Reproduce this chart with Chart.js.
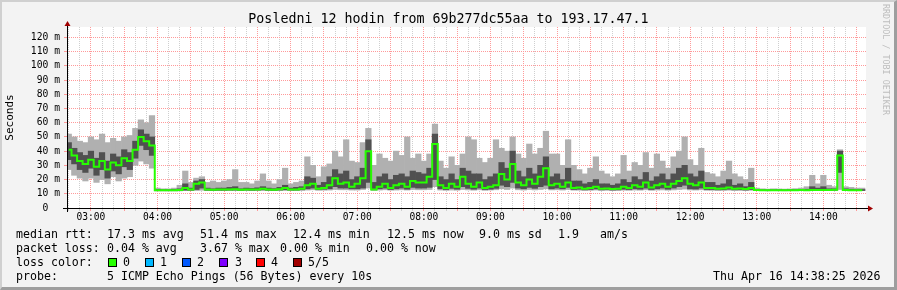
<!DOCTYPE html>
<html lang="cs">
<head>
<meta charset="UTF-8">
<title>Smokeping - Posledni 12 hodin</title>
<script src="https://cdn.jsdelivr.net/npm/chart.js"></script>
<style>
  * { margin: 0; padding: 0; box-sizing: border-box; }
  body { background: #f3f3f3; }
  #wrap {
    position: relative;
    width: 897px;
    height: 290px;
    background: #f3f3f3;
    font-family: 'DejaVu Sans Mono', monospace;
    color: #000;
    overflow: hidden;
  }
  #chart { position: absolute; left: 0; top: 0; }
  .txt { position: absolute; white-space: pre; font-size: 11.6px; line-height: 14px; }
  #title { position: absolute; top: 12px; left: 0; width: 897px; text-align: center; font-size: 13.3px; line-height: 14px; }
  #brand {
    position: absolute; left: 881px; top: 4px;
    writing-mode: vertical-rl; font-size: 8.4px; color: #bdbdbd; white-space: pre;
  }
  .sq { position: absolute; width: 9px; height: 9px; border: 1px solid #000; }
  #shade {
    position: absolute; inset: 0; pointer-events: none;
    border-top: 2px solid #d0d0d0; border-left: 2px solid #d0d0d0;
    border-right: 3px solid #9e9e9e; border-bottom: 3px solid #9e9e9e;
  }
</style>
</head>
<body>
<div id="wrap">
  <canvas id="chart" width="897" height="290"></canvas>
  <div id="title">Posledni 12 hodin from 69b277dc55aa to 193.17.47.1</div>
  <div id="brand">RRDTOOL / TOBI OETIKER</div>

  <div class="txt" style="left:16px;top:227px">median rtt:</div>
  <div class="txt" style="left:107px;top:227px">17.3 ms avg</div>
  <div class="txt" style="left:200px;top:227px">51.4 ms max</div>
  <div class="txt" style="left:293px;top:227px">12.4 ms min</div>
  <div class="txt" style="left:387px;top:227px">12.5 ms now</div>
  <div class="txt" style="left:479px;top:227px">9.0 ms sd</div>
  <div class="txt" style="left:558px;top:227px">1.9</div>
  <div class="txt" style="left:600px;top:227px">am/s</div>

  <div class="txt" style="left:16px;top:241px">packet loss:</div>
  <div class="txt" style="left:107px;top:241px">0.04 % avg</div>
  <div class="txt" style="left:200px;top:241px">3.67 % max</div>
  <div class="txt" style="left:280px;top:241px">0.00 % min</div>
  <div class="txt" style="left:366px;top:241px">0.00 % now</div>

  <div class="txt" style="left:16px;top:255px">loss color:</div>
  <div class="sq" style="left:108px;top:258px;background:#26ff00"></div>
  <div class="txt" style="left:123px;top:255px">0</div>
  <div class="sq" style="left:145px;top:258px;background:#00b8ff"></div>
  <div class="txt" style="left:160px;top:255px">1</div>
  <div class="sq" style="left:182px;top:258px;background:#0059ff"></div>
  <div class="txt" style="left:197px;top:255px">2</div>
  <div class="sq" style="left:219px;top:258px;background:#7e00ff"></div>
  <div class="txt" style="left:235px;top:255px">3</div>
  <div class="sq" style="left:256px;top:258px;background:#ff0000"></div>
  <div class="txt" style="left:271px;top:255px">4</div>
  <div class="sq" style="left:293px;top:258px;background:#a10000"></div>
  <div class="txt" style="left:308px;top:255px">5/5</div>

  <div class="txt" style="left:16px;top:269px">probe:</div>
  <div class="txt" style="left:107px;top:269px">5 ICMP Echo Pings (56 Bytes) every 10s</div>
  <div class="txt" style="left:713px;top:269px">Thu Apr 16 14:38:25 2026</div>

  <div id="shade"></div>
</div>

<script>
  // 5 minute slots, first slot 02:40, last 14:35 (minutes since midnight)
  const slotStart = 160;
  const slotMinutes = 5;

  // median rtt (ms)
  const median = [
    41, 37, 33, 31,
    34, 29, 33, 27, 32, 30, 35, 33, 41, 50, 47, 44,
    12.5, 12.4, 12.4, 12.5, 12.6, 14, 13, 17, 18, 13, 12.8, 13,
    13, 13, 13.2, 12.8, 13, 13, 13, 13.5, 13, 12.8, 13.2, 14,
    13, 13, 13.5, 16, 17, 13.5, 14, 16, 21, 17, 18, 15,
    17, 21, 40, 13, 15, 17, 14, 16, 17, 15, 19, 18,
    18, 22, 45, 16, 14, 17, 15, 22, 17, 15, 18, 14,
    15, 16, 24, 20, 31, 18, 16, 20, 17, 22, 28, 16,
    17, 15, 18, 14, 14.5, 13.5, 14, 15, 13.5, 13.8, 13.3, 13.5,
    15, 14, 16, 15, 18, 14.5, 16, 17, 15, 17, 19, 21,
    17, 16, 18, 14, 14, 13.5, 13.8, 14.5, 13.5, 13.8, 13.3, 14,
    12.6, 12.5, 12.4, 12.5, 12.5, 12.4, 12.5, 12.5, 12.6, 12.5, 12.6, 12.7,
    12.7, 12.6, 12.8, 37, 12.6, 12.5, 12.5, 12.5
  ];

  // smoke: lowest and highest ping in the slot (ms)
  const smokeLo = [
    27, 23, 21, 19,
    21, 18, 20, 17, 22, 19, 21, 22, 30, 33, 31, 28,
    12, 12, 12, 12, 12, 12.2, 12.2, 12.3, 12.5, 12.2, 12.2, 12.2,
    12.2, 12.3, 12.3, 12.2, 12.3, 12.2, 12.3, 12.3, 12.2, 12.2, 12.3, 12.4,
    12.3, 12.3, 12.4, 12.6, 12.8, 12.4, 12.5, 12.6, 13, 12.8, 12.8, 12.6,
    12.6, 13, 14, 12.4, 12.6, 12.8, 12.5, 12.6, 12.8, 12.6, 13, 12.8,
    12.8, 13, 15, 12.6, 12.4, 12.6, 12.5, 13, 12.7, 12.5, 12.8, 12.4,
    12.6, 12.8, 13.5, 13, 14, 12.8, 12.6, 13, 12.7, 13, 13.5, 12.7,
    12.8, 12.6, 13, 12.5, 12.5, 12.3, 12.4, 12.6, 12.3, 12.4, 12.2, 12.3,
    12.5, 12.4, 12.6, 12.5, 12.8, 12.4, 12.6, 12.7, 12.5, 12.7, 13, 13.3,
    12.7, 12.6, 12.8, 12.4, 12.4, 12.3, 12.3, 12.5, 12.3, 12.3, 12.2, 12.4,
    12.2, 12.2, 12.1, 12.2, 12.2, 12.1, 12.2, 12.2, 12.2, 12.2, 12.3, 12.3,
    12.3, 12.2, 12.3, 13, 12.2, 12.2, 12.2, 12.2
  ];
  const smokeHi = [
    52, 50, 47, 46,
    50, 48, 52, 46, 49, 47, 50, 51, 56, 62, 60, 65,
    14, 13.5, 13.5, 14, 16, 26, 18, 21, 22, 18, 19, 18,
    19, 20, 27, 18, 18, 17, 19, 24, 19, 17, 20, 28,
    17, 18, 19, 36, 30, 22, 29, 31, 40, 36, 48, 33,
    32, 46, 56, 30, 38, 35, 33, 40, 37, 50, 35, 38,
    33, 38, 59, 33, 28, 36, 30, 38, 50, 48, 35, 32,
    35, 48, 42, 40, 50, 38, 35, 45, 38, 42, 54, 38,
    38, 30, 48, 30, 27, 24, 28, 36, 26, 24, 22, 24,
    37, 26, 32, 30, 39, 28, 38, 33, 28, 36, 40, 50,
    34, 30, 42, 25, 24, 22, 26, 33, 24, 22, 20, 28,
    14, 13.5, 13.3, 13.5, 13.4, 13.3, 13.4, 13.6, 14, 15, 23, 17,
    23, 16, 15, 41, 15, 14.5, 14, 14
  ];

  // dense part of the smoke around the median (ms)
  const coreLo = [
    34, 31, 27, 25,
    28, 23, 27, 21, 26, 24, 29, 27, 35, 44, 41, 37,
    12.2, 12.2, 12.2, 12.3, 12.3, 12.6, 12.5, 13, 14, 12.5, 12.4, 12.5,
    12.5, 12.6, 12.6, 12.4, 12.6, 12.5, 12.6, 12.8, 12.5, 12.4, 12.6, 12.8,
    12.6, 12.6, 12.8, 13.5, 14, 13, 13.2, 13.5, 15, 14, 14, 13.5,
    13.5, 14, 18, 12.8, 13.5, 14, 13, 13.5, 14, 13.2, 14.5, 14,
    14, 14.5, 20, 13.5, 13, 13.8, 13.2, 15, 13.8, 13.2, 14, 13,
    13.2, 13.8, 16, 15, 18, 14, 13.5, 14.5, 13.8, 15, 16, 13.5,
    14, 13.5, 14.5, 13, 13.2, 12.8, 13, 13.4, 12.8, 13, 12.7, 12.8,
    13.2, 13, 13.5, 13.2, 14, 13, 13.5, 14, 13.2, 14, 15, 16,
    13.5, 13.3, 14, 13, 13, 12.8, 12.9, 13.2, 12.8, 12.9, 12.7, 13,
    12.4, 12.3, 12.2, 12.3, 12.3, 12.2, 12.3, 12.3, 12.4, 12.3, 12.4, 12.5,
    12.5, 12.4, 12.5, 25, 12.4, 12.3, 12.3, 12.3
  ];
  const coreHi = [
    46, 42, 39, 37,
    40, 35, 39, 33, 38, 36, 41, 39, 47, 55, 52, 50,
    13, 12.8, 12.8, 13, 13.5, 17, 14, 19, 20, 14, 13.5, 14,
    14, 14.5, 15, 13.5, 14, 13.8, 14.2, 15, 14, 13.6, 14.5, 16,
    14, 14.5, 15, 22, 21, 16, 18, 22, 27, 24, 26, 20,
    22, 28, 48, 18, 22, 24, 20, 23, 24, 22, 26, 25,
    24, 28, 52, 22, 20, 24, 20, 28, 26, 24, 24, 20,
    22, 24, 32, 28, 40, 26, 22, 28, 24, 30, 36, 22,
    24, 20, 28, 19, 19, 17, 18, 20, 17, 17, 16, 17,
    20, 18, 22, 20, 25, 19, 22, 24, 20, 24, 28, 30,
    24, 22, 26, 18, 18, 16, 17, 20, 16, 17, 15, 18,
    13, 12.8, 12.7, 12.8, 12.8, 12.7, 12.8, 12.8, 13, 13.2, 15, 14,
    15, 13.5, 13.5, 40, 13.5, 13.2, 13, 13
  ];

  // graph window: 02:38:25 .. 14:38:25
  const xMin = 158.42;
  const xMax = 878.42;
  const yMax = 127.3;

  const times = median.map((_, i) => slotStart + i * slotMinutes);
  const range = (a, b) => times.map((t, i) => ({ x: t, y: [a[i], b[i]] }));

  const pad2 = n => String(n).padStart(2, '0');
  const majorRed = '#ff9a9a';
  const minorGray = '#cfcfcf';

  const plotBits = {
    id: 'plotBits',
    beforeDraw(c) {
      const { ctx, chartArea: a } = c;
      ctx.save();
      ctx.fillStyle = '#ffffff';
      ctx.fillRect(a.left, a.top, a.right - a.left, a.bottom - a.top);
      ctx.restore();
    },
    afterDraw(c) {
      const { ctx, chartArea: a } = c;
      const x0 = Math.round(a.left) + 0.5;
      const y0 = Math.round(a.bottom) + 0.5;
      ctx.save();
      ctx.lineWidth = 1;
      ctx.strokeStyle = '#000';
      ctx.beginPath();
      ctx.moveTo(a.left - 4, y0); ctx.lineTo(a.right + 3, y0);
      ctx.moveTo(x0, a.bottom + 4); ctx.lineTo(x0, a.top - 3);
      ctx.stroke();
      ctx.fillStyle = '#a00000';
      ctx.beginPath();
      ctx.moveTo(a.right + 2, y0 - 3); ctx.lineTo(a.right + 7, y0); ctx.lineTo(a.right + 2, y0 + 3);
      ctx.fill();
      ctx.beginPath();
      ctx.moveTo(x0 - 3, a.top - 1); ctx.lineTo(x0, a.top - 6); ctx.lineTo(x0 + 3, a.top - 1);
      ctx.fill();
      ctx.restore();
    }
  };

  const xTicks = [];
  for (let m = 160; m <= 870; m += 10) xTicks.push({ value: m });
  const yTicks = [];
  for (let v = 0; v <= 125; v += 5) yTicks.push({ value: v });

  const isMajor = (ctx, step) => !!ctx.tick && Math.round(ctx.tick.value) % step === 0;

  new Chart(document.getElementById('chart'), {
    type: 'bar',
    data: {
      datasets: [
        {
          type: 'line',
          label: 'median',
          data: times.map((t, i) => ({ x: t, y: median[i] })),
          borderColor: '#26ff00',
          borderWidth: 2,
          pointRadius: 0,
          stepped: 'middle',
          order: 0
        },
        {
          label: 'core',
          data: range(coreLo, coreHi),
          backgroundColor: '#505050',
          borderWidth: 0,
          grouped: false,
          barPercentage: 1,
          categoryPercentage: 1,
          order: 1
        },
        {
          label: 'smoke',
          data: range(smokeLo, smokeHi),
          backgroundColor: '#b0b0b0',
          borderWidth: 0,
          grouped: false,
          barPercentage: 1,
          categoryPercentage: 1,
          order: 2
        }
      ]
    },
    options: {
      responsive: false,
      animation: false,
      events: [],
      layout: { padding: { left: 0, top: 27, right: 31, bottom: 60 } },
      plugins: { legend: { display: false }, tooltip: { enabled: false } },
      scales: {
        x: {
          type: 'linear',
          min: xMin,
          max: xMax,
          offset: false,
          afterBuildTicks: s => { s.ticks = xTicks.slice(); },
          afterFit: s => { s.height = 22; },
          grid: {
            offset: false,
            color: ctx => isMajor(ctx, 30) ? majorRed : minorGray,
            tickLength: 3
          },
          border: { display: false, dash: [1, 1] },
          ticks: {
            autoSkip: false,
            maxRotation: 0,
            padding: 1,
            color: '#000',
            font: { family: 'DejaVu Sans Mono', size: 9.6 },
            callback: v => v % 60 === 0 ? pad2(v / 60) + ':00' : ''
          }
        },
        y: {
          min: 0,
          max: yMax,
          afterBuildTicks: s => { s.ticks = yTicks.slice(); },
          afterFit: s => { s.width = 67; },
          grid: {
            color: ctx => isMajor(ctx, 10) ? majorRed : minorGray,
            tickLength: 3
          },
          border: { display: false, dash: [1, 1] },
          title: {
            display: true,
            text: 'Seconds',
            color: '#000',
            font: { family: 'DejaVu Sans Mono', size: 11 },
            padding: { top: 4, bottom: 0 }
          },
          ticks: {
            padding: 4,
            color: '#000',
            font: { family: 'DejaVu Sans Mono', size: 9.7 },
            callback: v => v % 10 !== 0 ? '' : (v === 0 ? '0  ' : v + ' m')
          }
        }
      }
    },
    plugins: [plotBits]
  });
</script>
</body>
</html>
